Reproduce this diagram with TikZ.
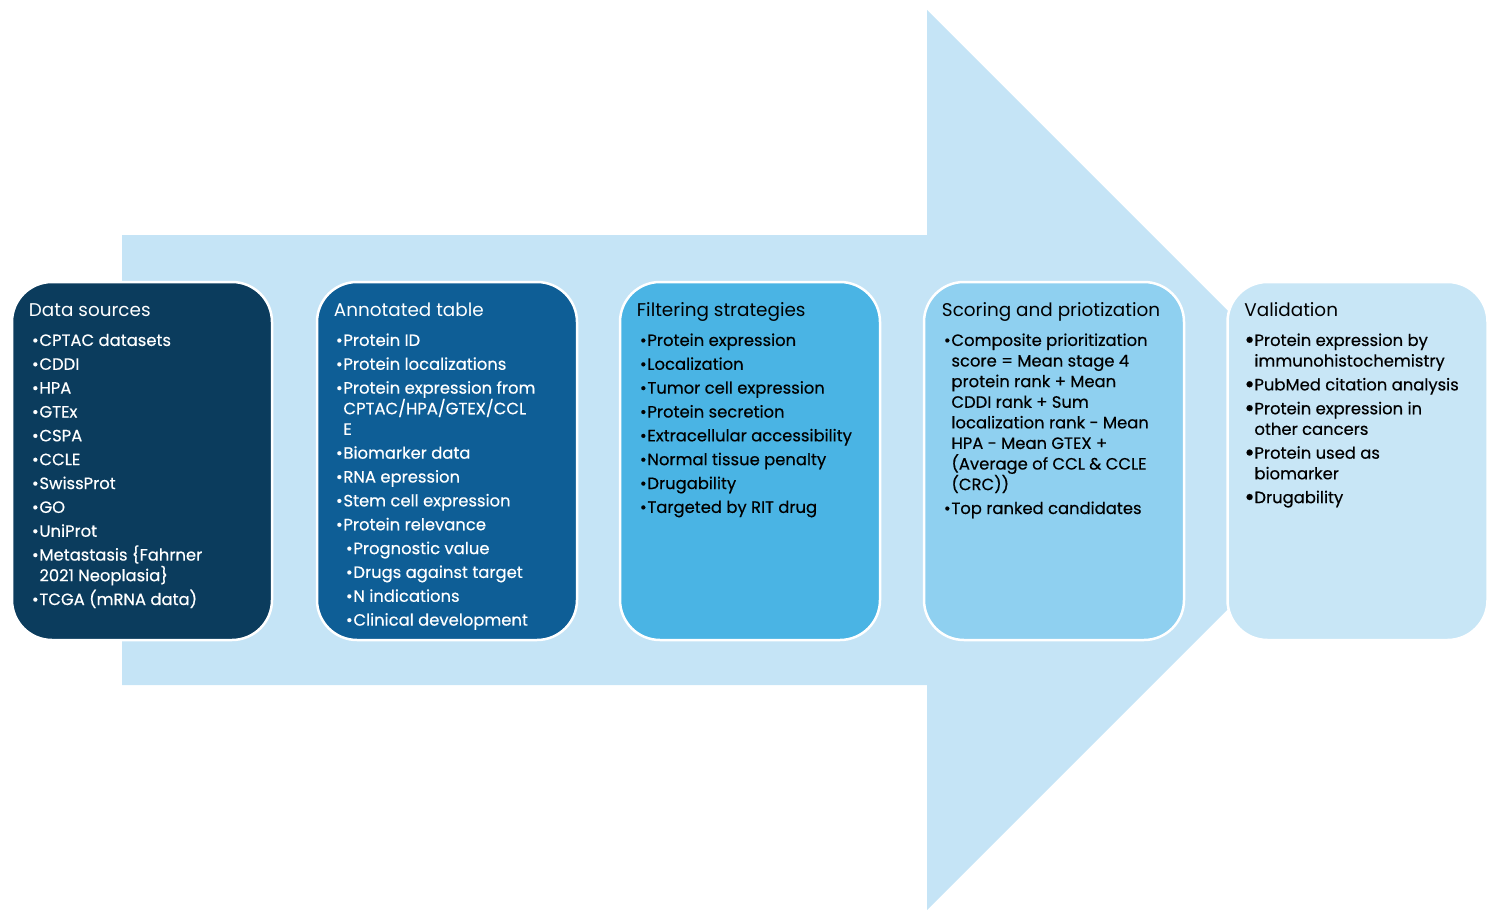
\documentclass[tikz,border=0pt]{standalone}
\usepackage{fontspec}
\setmainfont{Poppins}
\newfontfamily\itemfont{Poppins}[FakeBold=0.4]
\usetikzlibrary{positioning}

\definecolor{arrowblue}{HTML}{C5E4F6}
\definecolor{stageA}{HTML}{0B3C5D}
\definecolor{stageB}{HTML}{0E5E96}
\definecolor{stageC}{HTML}{4AB4E4}
\definecolor{stageD}{HTML}{8FD0F0}
\definecolor{stageE}{HTML}{C8E6F6}

% bullets and hanging indent
\newcommand\bul{\makebox[7.5pt][l]{•}}
\newcommand\hang{\hspace*{7.5pt}}
\newcommand\sub{\hspace*{10pt}}
\newcommand\dotbul{\makebox[10pt][l]{\raisebox{-2.2pt}{\fontsize{25}{20}\selectfont•}}}
\newcommand\dothang{\hspace*{10pt}}
\newcommand\firstline{\rule{0pt}{13pt}}

\begin{document}
\begin{tikzpicture}[%
    x=1pt, y=-1pt,
    stage/.style={%
        draw=white,
        line width=2.5pt,
        rounded corners=40pt,
        minimum width=260pt,
        minimum height=358pt,
        inner sep=0pt
    },
    title/.style={%
        anchor=base west,
        inner sep=0pt,
        font=\fontsize{18.4}{22}\selectfont
    },
    items/.style={%
        anchor=north west,
        align=left,
        inner sep=0pt,
        font=\itemfont\fontsize{16.4}{20.6}\selectfont
    },
    >=stealth
]
\useasboundingbox (0,0) rectangle (1498,920);

% Big arrow
    \fill[arrowblue] (122,235) -- (927,235) -- (927,10) -- (1377,460)
        -- (927,910) -- (927,685) -- (122,685) -- cycle;

% Stages
    \node[stage, fill=stageA] (sources) at (142,461) {};
    \node[stage, fill=stageB] (annotated) at (447,461) {};
    \node[stage, fill=stageC] (filtering) at (750,461) {};
    \node[stage, fill=stageD] (scoring) at (1054,461) {};
    \node[stage, fill=stageE] (validation) at (1357.5,461) {};

% Data sources
    \node[title, white] (sourcesTitle) at ([shift={(18,36)}]sources.north west) {Data sources};
    \node[items, white] (sourcesList) at ([shift={(21,52)}]sources.north west) {%
        \firstline\bul CPTAC datasets\\[3.25pt]
        \bul CDDI\\[3.25pt]
        \bul HPA\\[3.25pt]
        \bul GTEx\\[3.25pt]
        \bul CSPA\\[3.25pt]
        \bul CCLE\\[3.25pt]
        \bul SwissProt\\[3.25pt]
        \bul GO\\[3.25pt]
        \bul UniProt\\[3.25pt]
        \bul Metastasis \{Fahrner\\
        \hang 2021 Neoplasia\}\\[3.25pt]
        \bul TCGA (mRNA data)};

% Annotated table
    \node[title, white] (annotatedTitle) at ([shift={(18,36)}]annotated.north west) {Annotated table};
    \node[items, white] (annotatedList) at ([shift={(20,52)}]annotated.north west) {%
        \firstline\bul Protein ID\\[3.25pt]
        \bul Protein localizations\\[3.25pt]
        \bul Protein expression from\\
        \hang CPTAC/HPA/GTEX/CCL\\
        \hang E\\[3.25pt]
        \bul Biomarker data\\[3.25pt]
        \bul RNA epression\\[3.25pt]
        \bul Stem cell expression\\[3.25pt]
        \bul Protein relevance\\[3.25pt]
        \sub\bul Prognostic value\\[3.25pt]
        \sub\bul Drugs against target\\[3.25pt]
        \sub\bul N indications\\[3.25pt]
        \sub\bul Clinical development};

% Filtering strategies
    \node[title] (filteringTitle) at ([shift={(18,36)}]filtering.north west) {Filtering strategies};
    \node[items] (filteringList) at ([shift={(21,52)}]filtering.north west) {%
        \firstline\bul Protein expression\\[3.25pt]
        \bul Localization\\[3.25pt]
        \bul Tumor cell expression\\[3.25pt]
        \bul Protein secretion\\[3.25pt]
        \bul Extracellular accessibility\\[3.25pt]
        \bul Normal tissue penalty\\[3.25pt]
        \bul Drugability\\[3.25pt]
        \bul Targeted by RIT drug};

% Scoring and priotization
    \node[title] (scoringTitle) at ([shift={(19,36)}]scoring.north west) {Scoring and priotization};
    \node[items] (scoringList) at ([shift={(21,52)}]scoring.north west) {%
        \firstline\bul Composite prioritization\\
        \hang score = Mean stage 4\\
        \hang protein rank + Mean\\
        \hang CDDI rank + Sum\\
        \hang localization rank - Mean\\
        \hang HPA - Mean GTEX +\\
        \hang (Average of CCL \& CCLE\\
        \hang (CRC))\\[3.25pt]
        \bul Top ranked candidates};

% Validation
    \node[title] (validationTitle) at ([shift={(18,36)}]validation.north west) {Validation};
    \node[items] (validationList) at ([shift={(18,52)}]validation.north west) {%
        \firstline\dotbul Protein expression by\\
        \dothang immunohistochemistry\\[3.25pt]
        \dotbul PubMed citation analysis\\[3.25pt]
        \dotbul Protein expression in\\
        \dothang other cancers\\[3.25pt]
        \dotbul Protein used as\\
        \dothang biomarker\\[3.25pt]
        \dotbul Drugability};

\end{tikzpicture}
\end{document}
